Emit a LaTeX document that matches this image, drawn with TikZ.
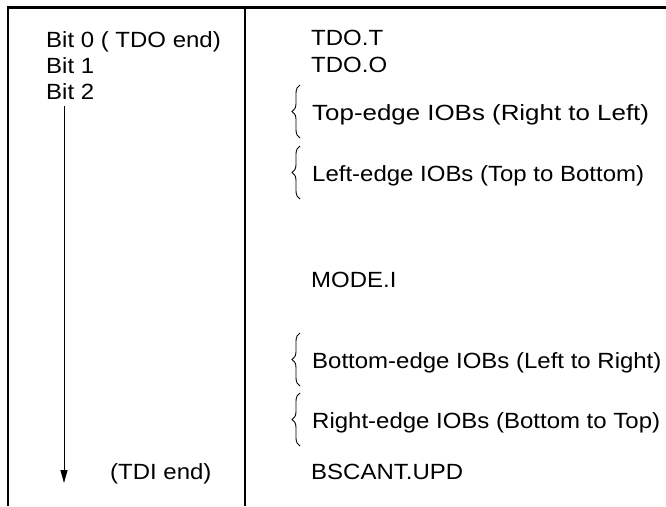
\documentclass[tikz,border=0pt]{standalone}
\usepackage{fontspec}
\setmainfont{Liberation Sans}
\usetikzlibrary{positioning, arrows.meta, decorations.pathreplacing}
\tikzset{
  text1/.style = {
    inner sep = 0pt,
    anchor = base west,
    xscale = 1.09,
    font = \fontsize{22}{26}\selectfont,
  }
}
\tikzset{
  arrow1/.style = {
    draw = black, line width = 1pt, -{Triangle[length = 13pt, width = 7pt]},
  }
}
\tikzset{
  brace1/.style = {
    draw = black, line width = 0.9pt,
    decorate, decoration = {brace, amplitude = 8pt},
  }
}

\begin{document}
\begin{tikzpicture}[x = 1pt, y = 1pt]
            \useasboundingbox (0,0) rectangle (666,-506);
            \draw[line width = 2.5pt] (8,-506) -- (8,-7.5) -- (666,-7.5);
            \draw[line width = 1.2pt] (245,-7.5) -- (245,-506);
            % left column
            \node[text1] (b0) at (46,-47) {Bit 0 ( TDO end)};
            \node[text1] (b1) at ([yshift = -26pt]b0.base west) {Bit 1};
            \node[text1] (b2) at ([yshift = -26pt]b1.base west) {Bit 2};
            \node[text1] (tdi) at (110,-479) {(TDI end)};
            \coordinate (atop) at (64,-106);
            \coordinate (abot) at (64,-483);
            \draw[arrow1](atop) -- (abot);
            % right column
            \node[text1] (tdot) at (311,-45) {TDO.T};
            \node[text1] (tdoo) at ([yshift = -27pt]tdot.base west) {TDO.O};
            \node[text1, xscale = 1.08] (top) at (312,-120) {Top-edge IOBs (Right to Left)};
            \node[text1] (left) at (312,-181) {Left-edge IOBs (Top to Bottom)};
            \node[text1] (mode) at (311,-287) {MODE.I};
            \node[text1] (bottom) at (312,-368) {Bottom-edge IOBs (Left to Right)};
            \node[text1] (right) at (312,-428) {Right-edge IOBs (Bottom to Top)};
            \node[text1] (upd) at (311,-479) {BSCANT.UPD};
            \foreach \n in {top, left, bottom, right}
              \draw[brace1] ([shift = {(-12pt,-18pt)}]\n.base west) -- ([shift = {(-12pt,35pt)}]\n.base west);
        \end{tikzpicture}
\end{document}
